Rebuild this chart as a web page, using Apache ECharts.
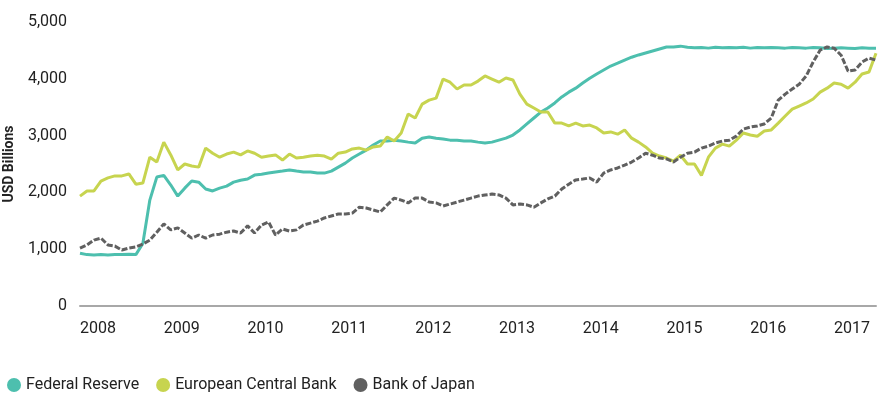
<!DOCTYPE html>
<html>
<head>
<meta charset="utf-8">
<script src="https://cdn.jsdelivr.net/npm/echarts@6/dist/echarts.min.js"></script>
<style>
  html, body { margin: 0; padding: 0; background: #ffffff; }
  #chart { width: 880px; height: 410px; }
</style>
</head>
<body>
<div id="chart"></div>
<script>
// Monthly observations, Jan 2008 .. Jul 2017 (USD billions)
const startYear = 2008;
const monthCount = 115;
const yTicks = [0, 1000, 2000, 3000, 4000, 5000];
const seriesNames = ['Federal Reserve', 'European Central Bank', 'Bank of Japan'];

const fedReserve = [
  930, 905, 900, 905, 900, 905, 905, 910, 905, 1100, 1865, 2270,
  2300, 2130, 1935, 2075, 2200, 2180, 2060, 2025, 2075, 2110, 2180, 2215,
  2235, 2305, 2320, 2340, 2360, 2375, 2395, 2375, 2360, 2360, 2340, 2340,
  2375, 2445, 2515, 2605, 2675, 2745, 2835, 2905, 2905, 2920, 2905, 2885,
  2870, 2955, 2975, 2955, 2940, 2920, 2920, 2905, 2905, 2885, 2870, 2885,
  2920, 2955, 3010, 3100, 3205, 3310, 3415, 3485, 3575, 3680, 3765, 3835,
  3925, 4010, 4085, 4155, 4225, 4275, 4330, 4380, 4420, 4455, 4490, 4525,
  4560, 4560, 4575, 4555, 4545, 4550, 4540, 4555, 4545, 4550, 4545, 4555,
  4540, 4550, 4545, 4550, 4545, 4540, 4550, 4545, 4540, 4550, 4545, 4535,
  4540, 4545, 4540, 4535, 4545, 4540, 4540
];

const ecb = [
  1935, 2025, 2025, 2200, 2255, 2290, 2290, 2325, 2145, 2165, 2620, 2535,
  2885, 2660, 2395, 2500, 2465, 2445, 2780, 2690, 2620, 2675, 2710, 2660,
  2730, 2690, 2620, 2640, 2660, 2570, 2675, 2605, 2620, 2640, 2655, 2640,
  2585, 2690, 2710, 2765, 2780, 2745, 2800, 2815, 2975, 2905, 3045, 3380,
  3310, 3555, 3625, 3660, 3995, 3940, 3820, 3890, 3890, 3960, 4050, 3995,
  3940, 4015, 3980, 3730, 3555, 3485, 3415, 3415, 3220, 3220, 3170, 3220,
  3170, 3185, 3135, 3045, 3065, 3025, 3100, 2955, 2885, 2800, 2690, 2640,
  2605, 2550, 2655, 2500, 2500, 2300, 2620, 2780, 2850, 2815, 2920, 3045,
  3010, 2990, 3080, 3100, 3220, 3345, 3465, 3520, 3575, 3645, 3765, 3835,
  3925, 3905, 3835, 3940, 4085, 4120, 4450
];

const bankOfJapan = [
  1020, 1075, 1160, 1195, 1075, 1055, 985, 1020, 1040, 1090, 1160, 1300,
  1445, 1340, 1375, 1285, 1195, 1250, 1195, 1250, 1265, 1300, 1320, 1285,
  1410, 1285, 1425, 1480, 1250, 1355, 1320, 1340, 1425, 1460, 1495, 1550,
  1585, 1620, 1620, 1635, 1740, 1725, 1690, 1655, 1780, 1900, 1865, 1815,
  1900, 1900, 1830, 1815, 1760, 1795, 1830, 1865, 1900, 1935, 1955, 1970,
  1955, 1900, 1780, 1795, 1780, 1740, 1815, 1885, 1935, 2060, 2145, 2220,
  2235, 2255, 2180, 2340, 2395, 2430, 2480, 2535, 2605, 2690, 2655, 2605,
  2590, 2535, 2620, 2690, 2710, 2780, 2815, 2870, 2905, 2920, 2990, 3115,
  3150, 3170, 3205, 3310, 3625, 3730, 3820, 3905, 4050, 4295, 4505, 4560,
  4540, 4415, 4135, 4155, 4295, 4365, 4330
];

const months = [];
for (let i = 0; i < monthCount; i++) {
  const y = startYear + Math.floor(i / 12);
  const m = (i % 12) + 1;
  months.push(y + '-' + (m < 10 ? '0' + m : m));
}

const colors = ['#4dbfae', '#c7d44f', '#606060'];
const FONT = 'Roboto';

const chart = echarts.init(document.getElementById('chart'), null, { renderer: 'canvas' });
chart.setOption({
  animation: false,
  color: colors,
  textStyle: { fontFamily: FONT },
  grid: { left: 80, right: 4, top: 22, bottom: 104, containLabel: false, outerBoundsMode: 'none' },
  legend: {
    data: seriesNames,
    left: 2,
    top: 372,
    icon: 'circle',
    itemWidth: 14,
    itemHeight: 14,
    itemGap: 17,
    textStyle: { fontFamily: FONT, fontSize: 16, color: '#222' }
  },
  xAxis: {
    type: 'category',
    data: months,
    boundaryGap: false,
    axisLine: { show: true, lineStyle: { color: '#a8a8a8', width: 2 } },
    axisTick: { show: false },
    splitLine: { show: false },
    axisLabel: {
      interval: function (idx, val) { return val.slice(5) === '01'; },
      formatter: function (val) { return val.slice(0, 4); },
      align: 'left',
      margin: 15,
      color: '#222',
      fontSize: 16,
      fontFamily: FONT
    }
  },
  yAxis: {
    type: 'value',
    min: yTicks[0],
    max: yTicks[yTicks.length - 1],
    interval: 1000,
    axisLine: { show: false },
    axisTick: { show: false },
    splitLine: { show: false },
    axisLabel: {
      color: '#222',
      fontSize: 16,
      fontFamily: FONT,
      margin: 13,
      formatter: function (v) { return v.toLocaleString('en-US'); }
    },
    name: 'USD Billions',
    nameLocation: 'middle',
    nameGap: 62,
    nameTextStyle: { fontWeight: 'bold', fontSize: 14, color: '#222', fontFamily: FONT }
  },
  series: [
    { name: seriesNames[0], type: 'line', data: fedReserve, showSymbol: false,
      lineStyle: { width: 3, color: colors[0] } },
    { name: seriesNames[1], type: 'line', data: ecb, showSymbol: false,
      lineStyle: { width: 3, color: colors[1] } },
    { name: seriesNames[2], type: 'line', data: bankOfJapan, showSymbol: false,
      lineStyle: { width: 3, color: colors[2], type: [6, 2] } }
  ]
});
</script>
</body>
</html>
